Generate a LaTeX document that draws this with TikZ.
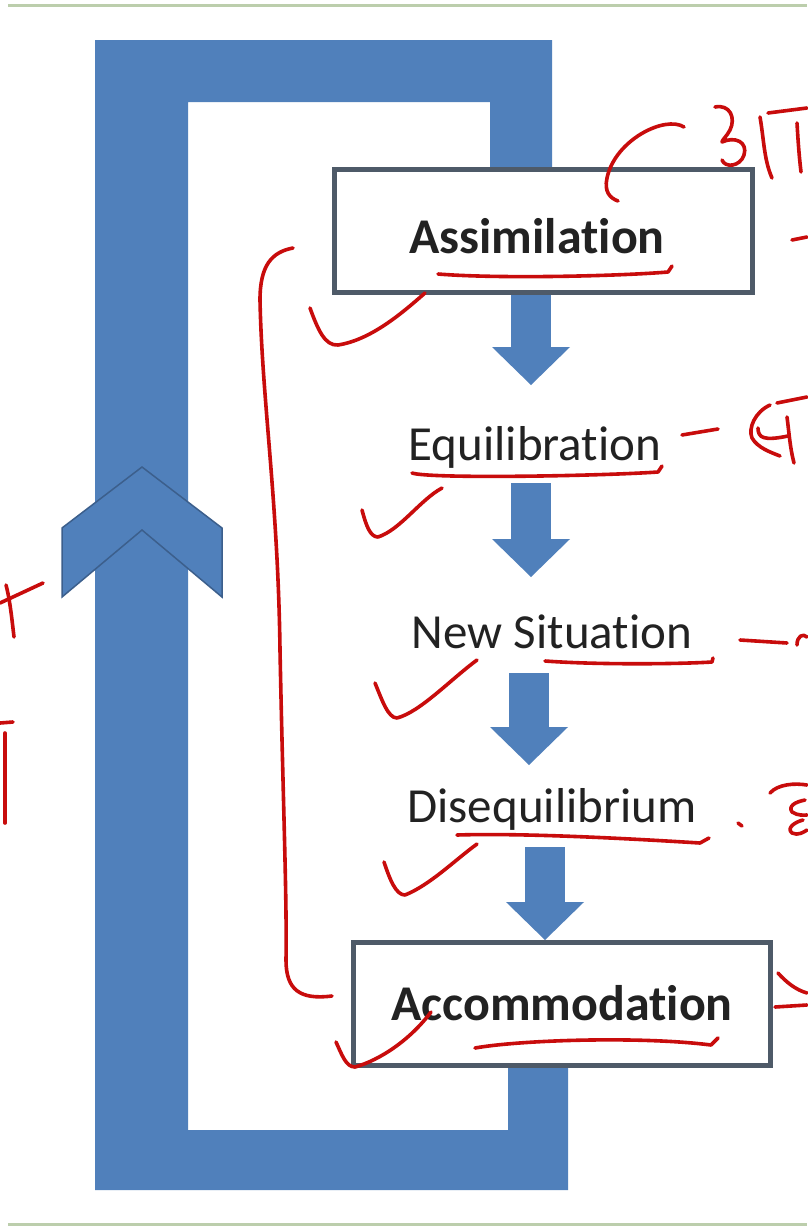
\documentclass[tikz,border=0pt]{standalone}
\usepackage{fontspec}
\setmainfont{Carlito}[Ligatures={NoCommon}]
\usetikzlibrary{arrows.meta}
\definecolor{frameblue}{RGB}{80,128,187}
\definecolor{chevline}{RGB}{60,95,140}
\definecolor{boxline}{RGB}{78,90,104}
\definecolor{ink}{RGB}{200,12,12}
\definecolor{txt}{RGB}{34,34,34}
\definecolor{rulecol}{RGB}{188,206,172}
\begin{document}
\begin{tikzpicture}[x=1pt,y=-1pt,
  stagebox/.style={draw=boxline, line width=5pt, fill=white, minimum width=418pt, minimum height=123pt, inner sep=0pt},
  lbl/.style={font=\fontsize{49}{58}\selectfont, text=txt, anchor=base, inner sep=0pt},
  blbl/.style={font=\fontsize{50}{58}\selectfont\bfseries, text=txt, anchor=base, inner sep=0pt},
  barrow/.style={draw=frameblue, line width=40pt, -{Triangle[width=78pt,length=38pt,line width=0pt]}},
  inkline/.style={draw=ink, line width=3.6pt, line cap=round, line join=round}]
\useasboundingbox (0,0) rectangle (807,1229);
\fill[white] (0,0) rectangle (807,1229);
% rules
\draw[rulecol, line width=3pt] (8,5) -- (807,5);
\draw[rulecol, line width=3pt] (8,1224) -- (807,1224);
% frame
\fill[frameblue] (95,40) -- (552,40) -- (552,200) -- (490,200) -- (490,102) -- (188,102) -- (188,1130)
  -- (508,1130) -- (508,1040) -- (568,1040) -- (568,1190) -- (95,1190) -- cycle;
% chevron
\filldraw[fill=frameblue, draw=chevline, line width=1.5pt, line join=miter]
  (62,528) -- (142,467) -- (222,528) -- (222,597) -- (142,530) -- (62,597) -- cycle;
% boxes
\node[stagebox] (assim) at (543.5,231) {};
\node[stagebox, minimum width=417pt] (accom) at (562,1004) {};
% labels
\node[blbl] (assimt) at (537,253) {Assimilation};
\node[lbl] (equil) at (535,460) {Equilibration};
\node[lbl] (newsit) at (552,648) {New Situation};
\node[lbl] (diseq) at (552,822) {Disequilibrium};
\node[blbl] (accomt) at (562,1020) {Accommodation};
% block arrows
\coordinate (t1) at (531,385);
\coordinate (s2) at (531,483);
\coordinate (t2) at (531,577);
\coordinate (s3) at (529,673);
\coordinate (t3) at (529,765);
\coordinate (s4) at (545,847);
\draw[barrow] (assim.south -| t1) -- (t1);
\draw[barrow] (s2) -- (t2);
\draw[barrow] (s3) -- (t3);
\draw[barrow] (s4) -- (accom.north -| s4);
% ---- red handwriting ----
% top curl
\draw[inkline] (684,127) .. controls (665,115) and (615,140) .. (607,178) .. controls (604,192) and (610,198) .. (618,201);
% top-right fragment
\draw[inkline] (715,107) .. controls (730,104) and (736,118) .. (730,130) .. controls (727,136) and (722,140) .. (722,142)
  .. controls (735,136) and (748,142) .. (744,155) .. controls (740,167) and (725,168) .. (722,160);
\draw[inkline] (760,117) .. controls (764,140) and (764,160) .. (772,178);
\draw[inkline] (768,113) -- (807,108);
\draw[inkline] (797,123) .. controls (798,140) and (799,155) .. (801,172);
\draw[inkline] (792,240) -- (807,237);
% Assimilation underline + tick
\draw[inkline] (438,274) .. controls (500,279) and (620,276) .. (668,272) -- (672,266);
\draw[inkline] (310,308) .. controls (318,330) and (325,346) .. (338,345) .. controls (370,340) and (400,315) .. (425,293);
% big bracket
\draw[inkline] (293,248) .. controls (272,252) and (260,265) .. (260,300) .. controls (262,400) and (278,500) .. (280,650)
  .. controls (283,800) and (287,900) .. (286,960) .. controls (286,990) and (300,1000) .. (332,996);
% Equilibration
\draw[inkline] (412,473) .. controls (430,479) and (600,476) .. (658,472) -- (662,466);
\draw[inkline] (362,510) .. controls (366,525) and (370,537) .. (378,537) .. controls (400,530) and (420,500) .. (442,488);
\draw[inkline] (682,435) -- (718,429);
\draw[inkline] (770,405) .. controls (755,412) and (748,428) .. (752,438) .. controls (758,448) and (770,452) .. (780,456);
\draw[inkline] (758,428) .. controls (758,438) and (764,441) .. (788,436);
\draw[inkline] (787,417) .. controls (789,432) and (790,448) .. (794,463);
\draw[inkline] (777,403) -- (807,397);
% New Situation
\draw[inkline] (545,661) .. controls (600,665) and (680,664) .. (712,662) -- (713,658);
\draw[inkline] (375,683) .. controls (382,700) and (388,718) .. (397,718) .. controls (420,712) and (450,680) .. (477,660);
\draw[inkline] (740,640) -- (787,643);
\draw[inkline] (797,645) .. controls (797,636) and (803,633) .. (807,637);
% Disequilibrium
\draw[inkline] (457,835) .. controls (520,833) and (620,838) .. (700,843) -- (709,838);
\draw[inkline] (384,862) .. controls (390,880) and (396,895) .. (405,895) .. controls (430,885) and (455,860) .. (477,844);
\draw[inkline] (738,823) -- (742,826);
\draw[inkline] (770,793) .. controls (778,784) and (795,783) .. (807,785);
\draw[inkline] (805,800) .. controls (795,802) and (788,806) .. (792,812) .. controls (798,816) and (804,815) .. (807,815);
\draw[inkline] (803,820) .. controls (795,822) and (786,828) .. (792,833) .. controls (798,836) and (804,832) .. (807,830);
% Accommodation
\draw[inkline] (336,1042) .. controls (342,1055) and (346,1067) .. (355,1067) .. controls (380,1060) and (410,1040) .. (431,1012);
\draw[inkline] (475,1048) .. controls (520,1040) and (640,1036) .. (711,1045) -- (718,1038);
\draw[inkline] (778,973) .. controls (786,982) and (796,990) .. (807,993);
\draw[inkline] (775,1007) -- (807,1005);
% left-edge fragments
\draw[inkline] (0,603) -- (43,583);
\draw[inkline] (6,585) .. controls (10,600) and (12,620) .. (14,637);
\draw[inkline] (0,723) -- (13,722);
\draw[inkline] (5,733) -- (5,823);
\end{tikzpicture}
\end{document}
